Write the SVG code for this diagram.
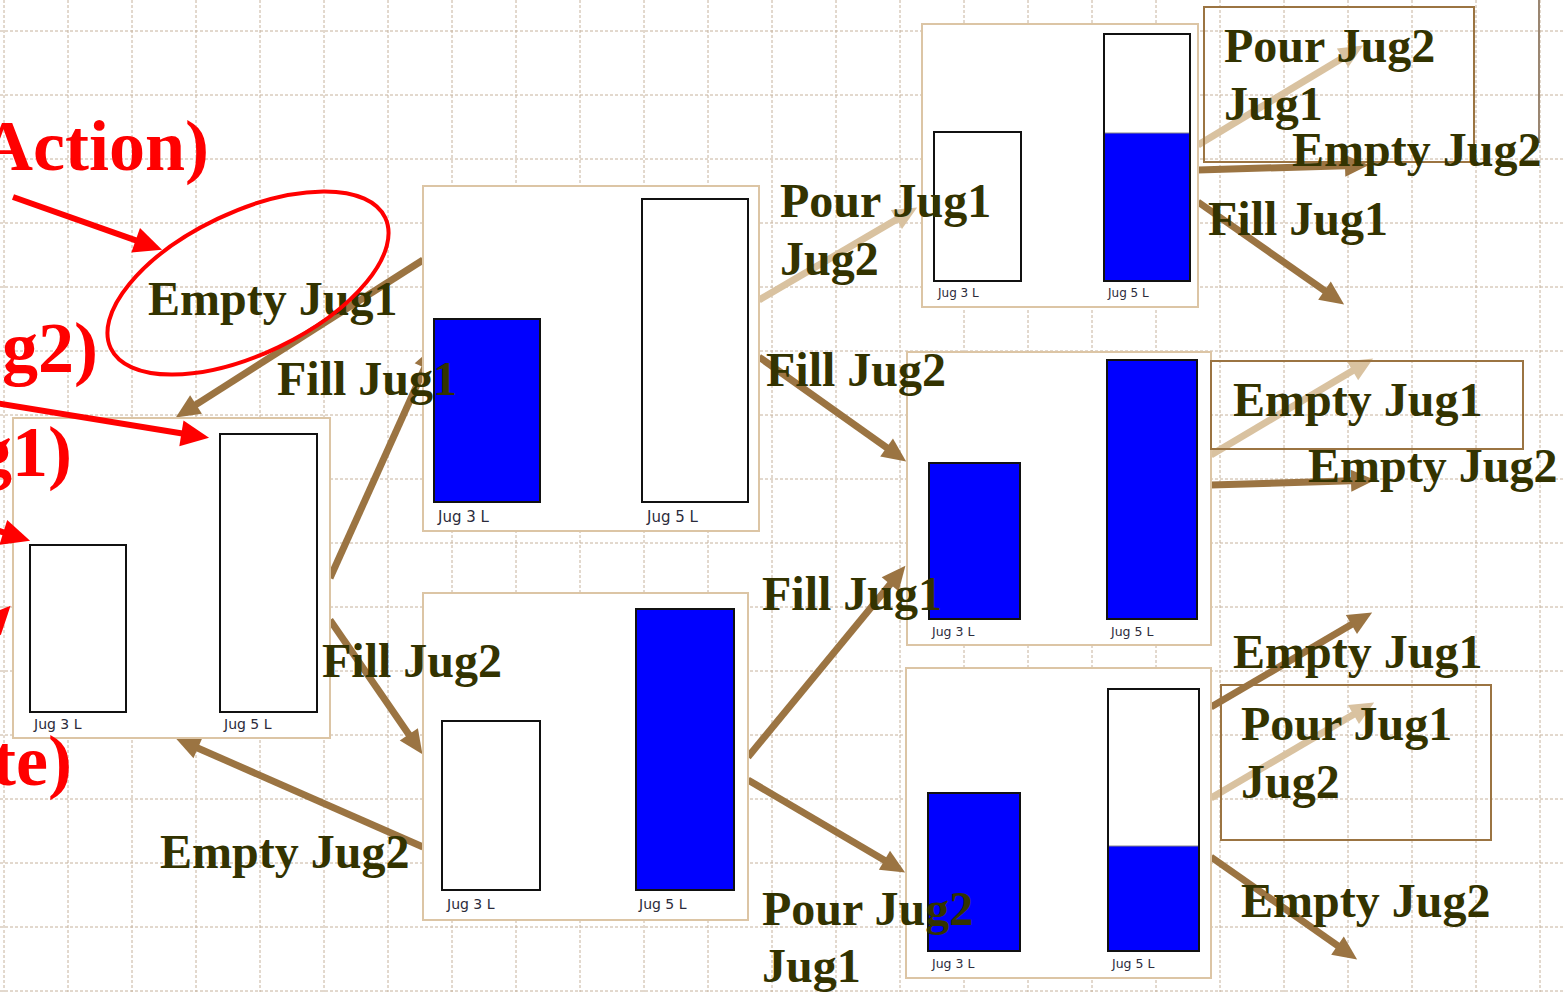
<svg xmlns="http://www.w3.org/2000/svg" width="1564" height="992" viewBox="0 0 1564 992">
  <style>
    .grid { fill: none; stroke: #c6b29c; stroke-width: 1; stroke-dasharray: 3 2; }
    .box { fill: #ffffff; stroke: #dcc5a5; stroke-width: 2; }
    .jug { fill: #ffffff; stroke: #111111; stroke-width: 2; }
    .water { fill: #0000ff; }
    .full { fill: #0000ff; stroke: #111111; stroke-width: 2; }
    .level { stroke: #888888; stroke-width: 1; }
    .cap { font-family: "DejaVu Sans", Verdana, sans-serif; fill: #2b2b3b; }
    .edge { fill: none; stroke: #9b7442; stroke-width: 7; }
    .edge.light { stroke: #d9c2a0; }
    .act { font-family: "Liberation Serif", "Times New Roman", serif; font-weight: bold; font-size: 48px; fill: #333300; }
    .frame { fill: none; stroke: #9b7442; stroke-width: 2; }
    .note { font-family: "Liberation Serif", "Times New Roman", serif; font-weight: bold; font-size: 72px; fill: #ff0000; }
    .red { fill: none; stroke: #ff0000; stroke-width: 6; }
  </style>
  <defs>
    <marker id="head" viewBox="0 -11 24 22" markerWidth="24" markerHeight="22" refX="1" refY="0" markerUnits="userSpaceOnUse" orient="auto" overflow="visible">
      <path d="M0,-11 L24,0 L0,11 z" fill="#9b7442"/>
    </marker>
    <marker id="head-light" viewBox="0 -11 24 22" markerWidth="24" markerHeight="22" refX="1" refY="0" markerUnits="userSpaceOnUse" orient="auto" overflow="visible">
      <path d="M0,-11 L24,0 L0,11 z" fill="#d9c2a0"/>
    </marker>
    <marker id="head-red" viewBox="0 -13 28 26" markerWidth="28" markerHeight="26" refX="1" refY="0" markerUnits="userSpaceOnUse" orient="auto" overflow="visible">
      <path d="M0,-13 L28,0 L0,13 z" fill="#ff0000"/>
    </marker>
  </defs>

  <rect x="0" y="0" width="1564" height="992" fill="#ffffff"/>

  <!-- background grid -->
  <path class="grid" d="M4 0V992M68 0V992M132 0V992M196 0V992M260 0V992M324 0V992M388 0V992M452 0V992M516 0V992M580 0V992M644 0V992M708 0V992M772 0V992M836 0V992M900 0V992M964 0V992M1028 0V992M1092 0V992M1156 0V992M1220 0V992M1284 0V992M1348 0V992M1412 0V992M1476 0V992M1540 0V992"/>
  <path class="grid" d="M0 31H1564M0 95H1564M0 159H1564M0 223H1564M0 287H1564M0 351H1564M0 415H1564M0 479H1564M0 543H1564M0 607H1564M0 671H1564M0 735H1564M0 799H1564M0 863H1564M0 927H1564M0 991H1564"/>

  <!-- transitions between states -->
  <g id="connectors">
    <line class="edge" x1="423" y1="260" x2="195.2" y2="405.1" marker-end="url(#head)"/>
    <line class="edge" x1="330" y1="578" x2="425.1" y2="366.9" marker-end="url(#head)"/>
    <line class="edge" x1="330" y1="620" x2="409.4" y2="735.2" marker-end="url(#head)"/>
    <line class="edge" x1="423" y1="847" x2="197" y2="747.7" marker-end="url(#head)"/>
    <line class="edge light" x1="759" y1="300" x2="897.3" y2="219.1" marker-end="url(#head-light)"/>
    <line class="edge" x1="759" y1="357" x2="887.4" y2="448.1" marker-end="url(#head)"/>
    <line class="edge" x1="748" y1="757" x2="890.8" y2="583.5" marker-end="url(#head)"/>
    <line class="edge" x1="748" y1="780" x2="885.3" y2="860.8" marker-end="url(#head)"/>
    <line class="edge light" x1="1198" y1="145" x2="1343.4" y2="57.4" marker-end="url(#head-light)"/>
    <line class="edge" x1="1198" y1="170" x2="1346" y2="165.7" marker-end="url(#head)"/>
    <line class="edge" x1="1198" y1="202" x2="1325.3" y2="291.2" marker-end="url(#head)"/>
    <line class="edge light" x1="1211" y1="455" x2="1353.4" y2="370.3" marker-end="url(#head-light)"/>
    <line class="edge" x1="1211" y1="485" x2="1352" y2="480.7" marker-end="url(#head)"/>
    <line class="edge" x1="1211" y1="707" x2="1352.3" y2="624.1" marker-end="url(#head)"/>
    <line class="edge light" x1="1211" y1="798" x2="1354.3" y2="714.1" marker-end="url(#head-light)"/>
    <line class="edge" x1="1211" y1="857" x2="1338.3" y2="946.2" marker-end="url(#head)"/>
  </g>

  <!-- states: two jugs each -->
  <g id="state-0-0">
    <rect class="box" x="13" y="418" width="317" height="320"/>
    <rect class="jug" x="30" y="545" width="96" height="167"/>
    <rect class="jug" x="220" y="434" width="97" height="278"/>
    <text class="cap" x="34" y="729" font-size="14">Jug 3 L</text>
    <text class="cap" x="224" y="729" font-size="14">Jug 5 L</text>
  </g>

  <g id="state-3-0">
    <rect class="box" x="423" y="186" width="336" height="345"/>
    <rect class="full" x="434" y="319" width="106" height="183"/>
    <rect class="jug" x="642" y="199" width="106" height="303"/>
    <text class="cap" x="438" y="522" font-size="15">Jug 3 L</text>
    <text class="cap" x="647" y="522" font-size="15">Jug 5 L</text>
  </g>

  <g id="state-0-5">
    <rect class="box" x="423" y="593" width="325" height="327"/>
    <rect class="jug" x="442" y="721" width="98" height="169"/>
    <rect class="full" x="636" y="609" width="98" height="281"/>
    <text class="cap" x="447" y="909" font-size="14">Jug 3 L</text>
    <text class="cap" x="639" y="909" font-size="14">Jug 5 L</text>
  </g>

  <g id="state-0-3">
    <rect class="box" x="922" y="24" width="276" height="283"/>
    <rect class="jug" x="934" y="132" width="87" height="149"/>
    <rect class="jug" x="1104" y="34" width="86" height="247"/>
    <rect class="water" x="1105" y="133" width="84" height="147"/>
    <line class="level" x1="1105" y1="133" x2="1189" y2="133"/>
    <rect x="1104" y="34" width="86" height="247" fill="none" stroke="#111111" stroke-width="2"/>
    <text class="cap" x="938" y="297" font-size="12">Jug 3 L</text>
    <text class="cap" x="1108" y="297" font-size="12">Jug 5 L</text>
  </g>

  <g id="state-3-5">
    <rect class="box" x="907" y="352" width="304" height="293"/>
    <rect class="full" x="929" y="463" width="91" height="156"/>
    <rect class="full" x="1107" y="360" width="90" height="259"/>
    <text class="cap" x="932" y="636" font-size="12.5">Jug 3 L</text>
    <text class="cap" x="1111" y="636" font-size="12.5">Jug 5 L</text>
  </g>

  <g id="state-3-2">
    <rect class="box" x="906" y="668" width="305" height="310"/>
    <rect class="full" x="928" y="793" width="92" height="158"/>
    <rect class="jug" x="1108" y="689" width="91" height="262"/>
    <rect class="water" x="1109" y="846" width="89" height="104"/>
    <line class="level" x1="1109" y1="846" x2="1198" y2="846"/>
    <rect x="1108" y="689" width="91" height="262" fill="none" stroke="#111111" stroke-width="2"/>
    <text class="cap" x="932" y="968" font-size="12.5">Jug 3 L</text>
    <text class="cap" x="1112" y="968" font-size="12.5">Jug 5 L</text>
  </g>

  <!-- frames around some action labels -->
  <g id="label-frames">
    <rect class="frame" x="1204" y="7" width="270" height="155"/>
    <line x1="1539" y1="0" x2="1539" y2="143" stroke="#9a8671" stroke-width="2"/>
    <rect class="frame" x="1211" y="361" width="312" height="88"/>
    <rect class="frame" x="1221" y="685" width="270" height="155"/>
  </g>

  <!-- action labels -->
  <g id="action-labels">
    <text class="act" x="148" y="315">Empty Jug1</text>
    <text class="act" x="277" y="395">Fill Jug1</text>
    <text class="act" x="322" y="677">Fill Jug2</text>
    <text class="act" x="160" y="868">Empty Jug2</text>
    <text class="act" x="780" y="217">Pour Jug1</text>
    <text class="act" x="780" y="275">Jug2</text>
    <text class="act" x="766" y="386">Fill Jug2</text>
    <text class="act" x="762" y="610">Fill Jug1</text>
    <text class="act" x="762" y="925">Pour Jug2</text>
    <text class="act" x="762" y="982">Jug1</text>
    <text class="act" x="1224" y="62">Pour Jug2</text>
    <text class="act" x="1224" y="120">Jug1</text>
    <text class="act" x="1292" y="166">Empty Jug2</text>
    <text class="act" x="1208" y="235">Fill Jug1</text>
    <text class="act" x="1233" y="416">Empty Jug1</text>
    <text class="act" x="1308" y="482">Empty Jug2</text>
    <text class="act" x="1233" y="668">Empty Jug1</text>
    <text class="act" x="1241" y="740">Pour Jug1</text>
    <text class="act" x="1241" y="798">Jug2</text>
    <text class="act" x="1241" y="917">Empty Jug2</text>
  </g>

  <!-- red callouts -->
  <g id="callouts">
    <text class="note" x="-19" y="170">Action)</text>
    <text class="note" x="-38" y="372" font-size="60">ug2)</text>
    <text class="note" x="-24" y="476" font-size="60">g1)</text>
    <text class="note" x="-8" y="785">te)</text>
    <ellipse cx="248" cy="283" rx="152" ry="71" transform="rotate(-25.5 248 283)" fill="none" stroke="#ff0000" stroke-width="4"/>
    <line class="red" x1="13" y1="197" x2="136.6" y2="240.7" marker-end="url(#head-red)"/>
    <line class="red" x1="-5" y1="403" x2="182.4" y2="433.5" marker-end="url(#head-red)"/>
    <line class="red" x1="-20" y1="525" x2="4.3" y2="532.6" marker-end="url(#head-red)"/>
    <line class="red" x1="-50" y1="670" x2="-8" y2="625.5" marker-end="url(#head-red)"/>
  </g>
</svg>
